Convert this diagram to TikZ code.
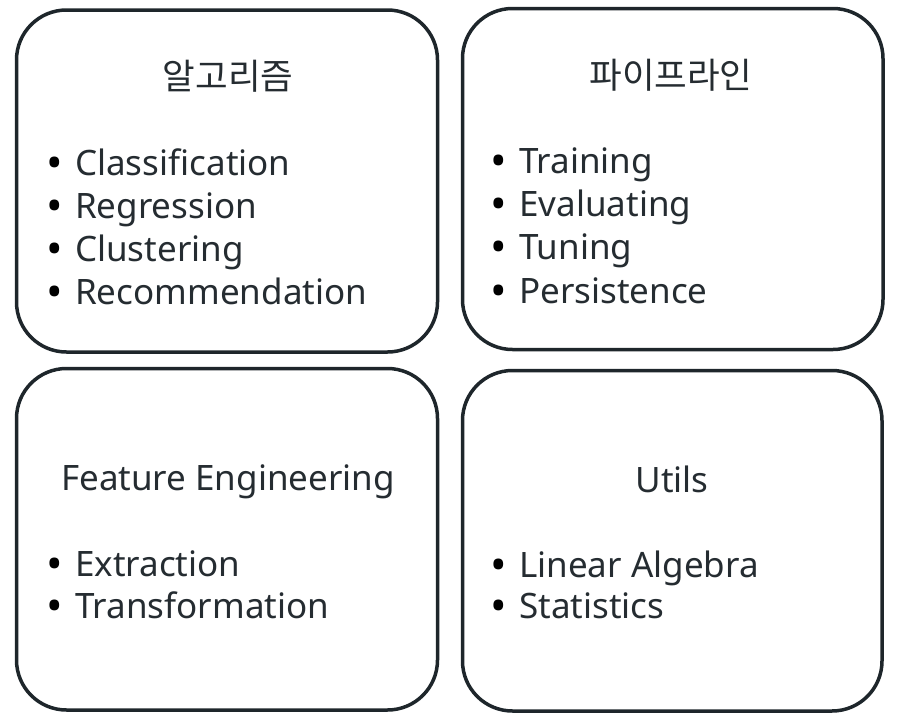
\documentclass[tikz,border=0pt]{standalone}
\usepackage{fontspec}
\setmainfont{Noto Sans}
\newfontfamily\krfont{Noto Sans CJK KR}
\definecolor{boxline}{HTML}{1E262B}
\definecolor{txt}{HTML}{252C31}
\newcommand{\bul}{\makebox[29pt][l]{\smash{\raisebox{-3pt}{\color{black}\fontsize{44}{44}\selectfont •}}}}
\begin{document}
\begin{tikzpicture}[x=1pt,y=-1pt,
  panel/.style={draw=boxline, line width=3.5pt, rounded corners=50pt, rectangle, inner sep=0pt, outer sep=0pt},
  ttl/.style={inner sep=0pt, text=txt, font=\fontsize{35}{40}\selectfont},
  krttl/.style={inner sep=0pt, text=txt, font=\krfont\fontsize{35.5}{40}\selectfont},
  itm/.style={anchor=base west, inner sep=0pt, text=txt, font=\fontsize{35}{40}\selectfont}]
\useasboundingbox (0,0) rectangle (906,721);
\node[panel, minimum width=421pt, minimum height=342pt] (p1) at (227,181) {};
\node[panel, minimum width=420.5pt, minimum height=341pt] (p2) at (672.75,179) {};
\node[panel, minimum width=421pt, minimum height=341.5pt] (p3) at (227,539.25) {};
\node[panel, minimum width=419.5pt, minimum height=340.5pt] (p4) at (672.25,540.75) {};

\node[krttl] (t1) at (228,76) {알고리즘};
\node[itm] (a1) at (46,175) {\bul Classification};
\node[itm] (a2) at (46,218) {\bul Regression};
\node[itm] (a3) at (46,261) {\bul Clustering};
\node[itm] (a4) at (46,304) {\bul Recommendation};

\node[krttl] (t2) at (671,75) {파이프라인};
\node[itm] (b1) at (490,173) {\bul Training};
\node[itm] (b2) at (490,216) {\bul Evaluating};
\node[itm] (b3) at (490,259) {\bul Tuning};
\node[itm] (b4) at (490,303) {\bul Persistence};

\node[ttl, anchor=base] (t3) at (228,490) {Feature Engineering};
\node[itm] (c1) at (46,576) {\bul Extraction};
\node[itm] (c2) at (46,618) {\bul Transformation};

\node[ttl, anchor=base] (t4) at (672,492) {Utils};
\node[itm] (d1) at (490,577) {\bul Linear Algebra};
\node[itm] (d2) at (490,618) {\bul Statistics};
\end{tikzpicture}
\end{document}
